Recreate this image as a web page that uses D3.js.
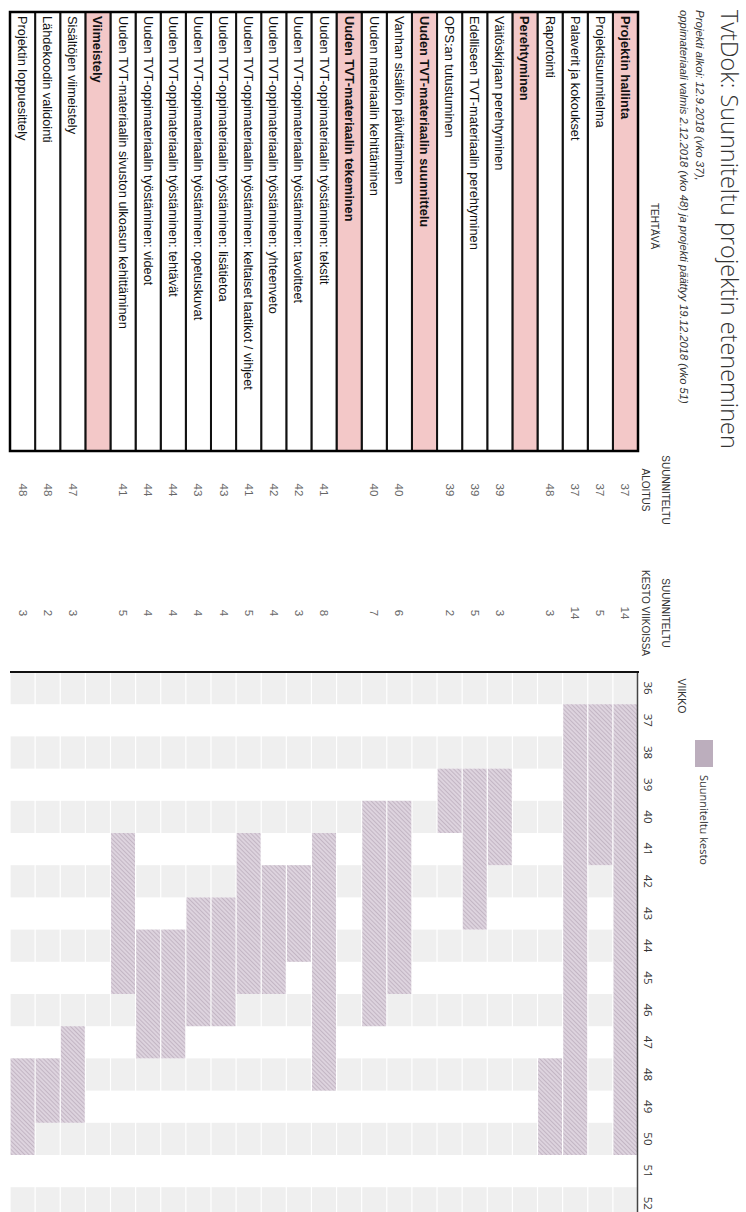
<!DOCTYPE html>
<html>
<head>
<meta charset="utf-8">
<script src="https://cdn.jsdelivr.net/npm/d3@7"></script>
<style>
  body { margin: 0; background: #fff; }
  text { font-family: "Liberation Sans", Arial, sans-serif; }
</style>
</head>
<body>
<div id="chart"></div>
<script>
// Tasks, top to bottom in the unrotated sheet
const tasks = [
    "Projektin hallinta",
    "Projektisuunnitelma",
    "Palaverit ja kokoukset",
    "Raportointi",
    "Perehtyminen",
    "Väitöskirjaan perehtyminen",
    "Edelliseen TVT-materiaalin perehtyminen",
    "OPS:an tutustuminen",
    "Uuden TVT-materiaalin suunnittelu",
    "Vanhan sisällön päivittäminen",
    "Uuden materiaalin kehittäminen",
    "Uuden TVT-materiaalin tekeminen",
    "Uuden TVT-oppimateriaalin työstäminen: tekstit",
    "Uuden TVT-oppimateriaalin työstäminen: tavoitteet",
    "Uuden TVT-oppimateriaalin työstäminen: yhteenveto",
    "Uuden TVT-oppimateriaalin työstäminen: keltaiset laatikot / vihjeet",
    "Uuden TVT-oppimateriaalin työstäminen: lisätietoa",
    "Uuden TVT-oppimateriaalin työstäminen: opetuskuvat",
    "Uuden TVT-oppimateriaalin työstäminen: tehtävät",
    "Uuden TVT-oppimateriaalin työstäminen: videot",
    "Uuden TVT-materiaalin sivuston ulkoasun kehittäminen",
    "Viimeistely",
    "Sisältöjen viimeistely",
    "Lähdekoodin validointi",
    "Projektin loppuesittely"
];
const headerTasks = ["Projektin hallinta", "Perehtyminen", "Uuden TVT-materiaalin suunnittelu",
    "Uuden TVT-materiaalin tekeminen", "Viimeistely"];
const starts    = [37, 37, 37, 48, null, 39, 39, 39, null, 40, 40, null, 41, 42, 42, 41, 43, 43, 44, 44, 41, null, 47, 48, 48];
const durations = [14, 5, 14, 3, null, 3, 5, 2, null, 6, 7, null, 8, 3, 4, 5, 4, 4, 4, 4, 5, null, 3, 2, 3];
const weeks = [36, 37, 38, 39, 40, 41, 42, 43, 44, 45, 46, 47, 48, 49, 50, 51, 52];

const W = 1212, H = 746;   // sheet size before rotation

let svg = d3.select("#chart").append("svg")
    .attr("width", H)
    .attr("height", W);

// the whole sheet is turned 90 degrees clockwise
let g = svg.append("g")
    .attr("transform", "translate(" + H + ",0) rotate(90)");

//Hatch pattern for the bars
let defs = svg.append("defs");
let pat = defs.append("pattern")
    .attr("id", "hatch")
    .attr("patternUnits", "userSpaceOnUse")
    .attr("width", 3).attr("height", 3)
    .attr("patternTransform", "rotate(45)");
pat.append("rect").attr("width", 3).attr("height", 3).attr("fill", "#ddd3de");
pat.append("line").attr("x1", 0).attr("y1", 0).attr("x2", 0).attr("y2", 3)
    .attr("stroke", "#ad9eae").attr("stroke-width", 1.1);

let rows = tasks.map((t, i) => ({task: t, start: starts[i], dur: durations[i], header: headerTasks.includes(t)}));

// scales
let y = d3.scaleBand()
    .domain(d3.range(tasks.length))
    .range([108, 736]);
let x = d3.scaleBand()
    .domain(weeks)
    .range([672, 672 + weeks.length * 32.2]);

//Title and notes
g.append("text").attr("x", 10).attr("y", 25)
    .style("font-family", "'Open Sans', sans-serif").style("font-weight", 300)
    .style("font-size", "23.5px").attr("fill", "#333")
    .text("TvtDok: Suunniteltu projektin eteneminen");
g.append("text").attr("x", 10).attr("y", 50)
    .style("font-style", "italic").style("font-size", "11.5px").attr("fill", "#333")
    .text("Projekti alkoi: 12.9.2018 (vko 37),");
g.append("text").attr("x", 10).attr("y", 66)
    .style("font-style", "italic").style("font-size", "11.2px").attr("fill", "#333")
    .text("oppimateriaali valmis 2.12.2018 (vko 48) ja projekti päättyy 19.12.2018 (vko 51)");

//Column headers
g.append("text").attr("x", 226).attr("y", 95).attr("text-anchor", "middle")
    .style("font-size", "10px").attr("fill", "#333").text("TEHTÄVÄ");
[["SUUNNITELTU", "ALOITUS", 490], ["SUUNNITELTU", "KESTO VIIKOISSA", 613]].forEach(h => {
    g.append("text").attr("x", h[2]).attr("y", 84).attr("text-anchor", "middle")
        .style("font-size", "10px").attr("fill", "#333").text(h[0]);
    g.append("text").attr("x", h[2]).attr("y", 104).attr("text-anchor", "middle")
        .style("font-size", "10px").attr("fill", "#333").text(h[1]);
});
g.append("text").attr("x", 696).attr("y", 68).attr("text-anchor", "middle")
    .style("font-size", "10.5px").attr("fill", "#333").text("VIIKKO");

//Legend
g.append("rect").attr("x", 740).attr("y", 33).attr("width", 27).attr("height", 18).attr("fill", "#bcaebd");
g.append("text").attr("x", 775).attr("y", 46)
    .style("font-family", "'Open Sans', sans-serif").style("font-size", "11px").attr("fill", "#333")
    .text("Suunniteltu kesto");

//Task table
let table = g.append("g");
table.selectAll(".cell")
    .data(rows)
    .enter().append("rect")
    .attr("x", 12)
    .attr("y", (d, i) => y(i))
    .attr("width", 451 - 12)
    .attr("height", y.bandwidth())
    .attr("fill", d => d.header ? "#f3c8c8" : "#fff")
    .attr("stroke", "#111")
    .attr("stroke-width", 2);
table.selectAll(".label")
    .data(rows)
    .enter().append("text")
    .attr("x", 16)
    .attr("y", (d, i) => y(i) + y.bandwidth() / 2 + 4.5)
    .style("font-size", "12.8px")
    .style("font-weight", d => d.header ? "bold" : "normal")
    .attr("fill", "#111")
    .text(d => d.task);
table.append("rect").attr("x", 12).attr("y", 108).attr("width", 439).attr("height", 628)
    .attr("fill", "none").attr("stroke", "#000").attr("stroke-width", 2.5);

//Start and duration columns
g.selectAll(".start")
    .data(rows.filter(d => d.start != null))
    .enter().append("text")
    .attr("x", 490)
    .attr("y", d => y(rows.indexOf(d)) + y.bandwidth() / 2 + 4)
    .attr("text-anchor", "middle")
    .style("font-size", "11.5px").attr("fill", "#666")
    .text(d => d.start);
g.selectAll(".dur")
    .data(rows.filter(d => d.dur != null))
    .enter().append("text")
    .attr("x", 613)
    .attr("y", d => y(rows.indexOf(d)) + y.bandwidth() / 2 + 4)
    .attr("text-anchor", "middle")
    .style("font-size", "11.5px").attr("fill", "#666")
    .text(d => d.dur);

//Gray bands for every other week
let grid = [];
rows.forEach((r, i) => weeks.forEach((w, j) => { if (j % 2 === 0) grid.push({i: i, w: w}); }));
g.append("g").selectAll("rect")
    .data(grid)
    .enter().append("rect")
    .attr("x", d => x(d.w))
    .attr("y", d => y(d.i) + 0.6)
    .attr("width", x.bandwidth())
    .attr("height", y.bandwidth() - 1.2)
    .attr("fill", "#efefef");

//Bars
g.append("g").selectAll("rect")
    .data(rows.filter(d => d.start != null))
    .enter().append("rect")
    .attr("x", d => x(d.start))
    .attr("y", d => y(rows.indexOf(d)) + 0.6)
    .attr("width", d => x.bandwidth() * d.dur)
    .attr("height", y.bandwidth() - 1.2)
    .attr("fill", "url(#hatch)");

//Week axis
let axis = g.append("g")
    .attr("transform", "translate(0,108)")
    .call(d3.axisTop(x).tickSize(0).tickPadding(6).tickSizeOuter(0));
axis.select(".domain").attr("stroke", "#444").attr("stroke-width", 1.5);
axis.selectAll("text").style("font-family", "'Open Sans', sans-serif").style("font-size", "11.5px").attr("fill", "#333");

g.append("line").attr("x1", 672).attr("x2", 672).attr("y1", 107).attr("y2", 736)
    .attr("stroke", "#111").attr("stroke-width", 2);
</script>
</body>
</html>
